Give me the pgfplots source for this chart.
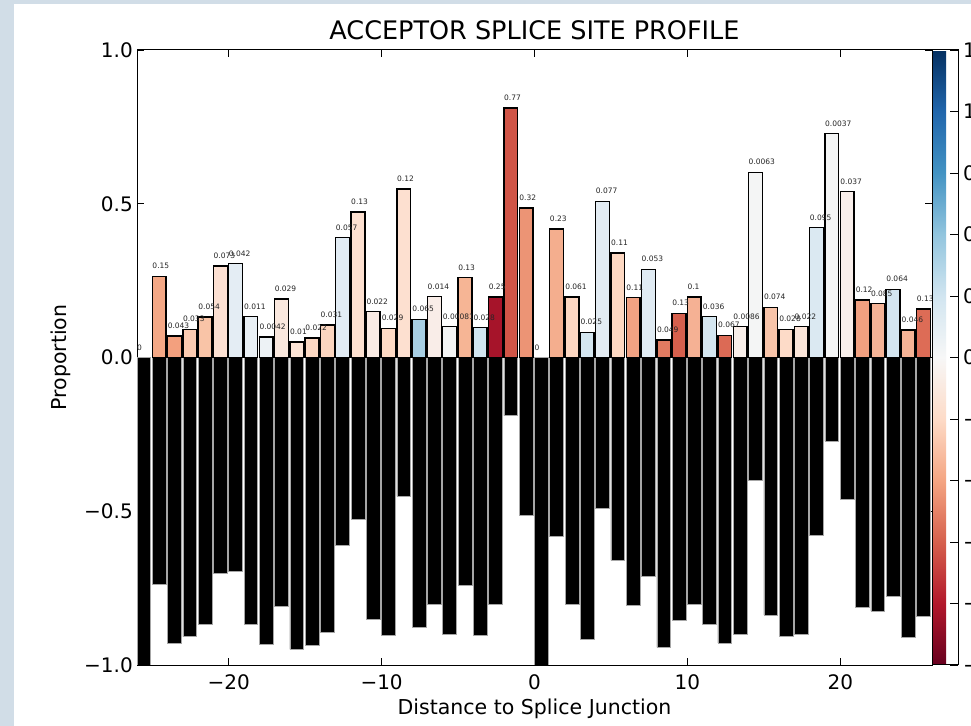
\documentclass[border=0pt]{standalone}
\usepackage{pgfplots}
\pgfplotsset{compat=1.18}
\usepackage{fontspec}
\setmainfont{DejaVu Sans}
\newcommand\fs[1]{\fontsize{#1}{#1}\selectfont}
\definecolor{bgc}{HTML}{D1DDE7}
\definecolor{m25}{HTML}{F4A886}\definecolor{m24}{HTML}{F3A07E}\definecolor{m23}{HTML}{FBCBB1}
\definecolor{m22}{HTML}{F9C4A7}\definecolor{m21}{HTML}{FCE0D2}\definecolor{m20}{HTML}{E4EDF4}
\definecolor{m19}{HTML}{E9F0F5}\definecolor{m18}{HTML}{EDF2F5}\definecolor{m17}{HTML}{FAE8DE}
\definecolor{m16}{HTML}{FCE3D5}\definecolor{m15}{HTML}{FCD8C3}\definecolor{m14}{HTML}{FBD5BF}
\definecolor{m13}{HTML}{E2ECF4}\definecolor{m12}{HTML}{FDE0D0}\definecolor{m11}{HTML}{FAEBE4}
\definecolor{m10}{HTML}{FDD9C4}\definecolor{m9}{HTML}{FDE0D0}\definecolor{m8}{HTML}{A7CEE3}
\definecolor{m7}{HTML}{F9EDE8}\definecolor{m6}{HTML}{F3F4F4}\definecolor{m5}{HTML}{F6B595}
\definecolor{m4}{HTML}{D2E5F0}\definecolor{m3}{HTML}{A6142A}\definecolor{m2}{HTML}{D05547}
\definecolor{m1}{HTML}{EC9475}
\definecolor{p1}{HTML}{F4AE8E}\definecolor{p2}{HTML}{FDD7C2}\definecolor{p3}{HTML}{D4E6F0}
\definecolor{p4}{HTML}{E3ECF3}\definecolor{p5}{HTML}{FDD8C2}\definecolor{p6}{HTML}{F2A283}
\definecolor{p7}{HTML}{E0EBF3}\definecolor{p8}{HTML}{E17B61}\definecolor{p9}{HTML}{D6604D}
\definecolor{p10}{HTML}{F5B194}\definecolor{p11}{HTML}{D4E6F0}\definecolor{p12}{HTML}{DC6A55}
\definecolor{p13}{HTML}{F8EEE9}\definecolor{p14}{HTML}{F4F5F5}\definecolor{p15}{HTML}{F8C4A9}
\definecolor{p16}{HTML}{FDDBC8}\definecolor{p17}{HTML}{FBE5D9}\definecolor{p18}{HTML}{DBE9F2}
\definecolor{p19}{HTML}{F4F5F5}\definecolor{p20}{HTML}{F9EFEB}\definecolor{p21}{HTML}{F1A080}
\definecolor{p22}{HTML}{F5B396}\definecolor{p23}{HTML}{D4E5F0}\definecolor{p24}{HTML}{F6B396}
\definecolor{p25}{HTML}{DD6C56}
\pgfplotsset{
  pb/.style={ybar, bar width=0.9, bar shift=0.45, draw=black, line width=1.4bp},
  nb/.style={ybar, bar width=0.9, bar shift=0.45, fill=black, draw=gray!70, line width=0.6bp},
}
\tikzset{lbl/.style={anchor=base west, inner sep=0pt, yshift=7.4bp, font=\fs{7.5bp}, text=black!85}}
\newcommand\B[3]{\addplot[pb, fill=#3] coordinates {(#1,#2)};}
\newcommand\T[3]{\node[lbl] at (axis cs:#1,#2) {#3};}
\begin{document}
\begin{tikzpicture}
\path[use as bounding box] (0,0) rectangle (971bp,726bp);
\fill[bgc] (0,0) rectangle (971bp,726bp);
\fill[white] (14bp,0) rectangle (971bp,722bp);
\begin{axis}[
  at={(137bp,61bp)}, anchor=south west,
  scale only axis, width=795bp, height=615bp,
  xmin=-26, xmax=26, ymin=-1, ymax=1,
  xtick={-20,-10,0,10,20}, xticklabels={−20,−10,0,10,20},
  ytick={-1,-0.5,0,0.5,1}, yticklabels={−1.0,−0.5,0.0,0.5,1.0},
  tick align=inside, major tick length=7bp,
  tick style={black, line width=0.8bp},
  axis line style={line width=1bp},
  xticklabel style={anchor=base, inner sep=0pt, yshift=-24bp, font=\fs{20bp}},
  yticklabel style={anchor=east, inner sep=0pt, xshift=-4bp, font=\fs{20bp}},
  title={ACCEPTOR SPLICE SITE PROFILE},
  title style={at={(0.5,1)}, anchor=base, inner sep=0pt, yshift=5bp, font=\fs{25.5bp}},
  xlabel={Distance to Splice Junction},
  xlabel style={at={(axis description cs:0.5,0)}, anchor=base, inner sep=0pt, yshift=-49bp, font=\fs{20.5bp}},
  ylabel={Proportion},
  ylabel style={at={(axis description cs:-0.0893,0.5)}, anchor=base, inner sep=0pt, font=\fs{20.5bp}},
  colorbar,
  colormap={RdBu}{rgb255=(103,0,31) rgb255=(178,24,43) rgb255=(214,96,77) rgb255=(244,165,130) rgb255=(253,219,199) rgb255=(247,247,247) rgb255=(209,229,240) rgb255=(146,197,222) rgb255=(67,147,195) rgb255=(33,102,172) rgb255=(5,48,97)},
  point meta min=-1.25, point meta max=1.25,
  colorbar shift/.style={xshift=0pt},
  colorbar style={
    at={(parent axis.north east)}, anchor=north west,
    width=26bp, scale only axis,
    ytick={-1.25,-1,-0.75,-0.5,-0.25,0,0.25,0.5,0.75,1,1.25},
    yticklabels={−1.25,−1.00,−0.75,−0.50,−0.25,0.00,0.25,0.50,0.75,1.00,1.25},
    yticklabel style={anchor=west, inner sep=0pt, xshift=5bp, font=\fs{20bp}},
    ytick pos=right, yticklabel pos=right,
    tick align=inside, major tick length=8bp,
    tick style={black, line width=0.8bp},
    axis line style={line width=1bp},
  },
]
\addplot[nb] table {
x y
-26 -1.000
-25 -0.736
-24 -0.930
-23 -0.908
-22 -0.868
-21 -0.703
-20 -0.694
-19 -0.867
-18 -0.933
-17 -0.810
-16 -0.949
-15 -0.936
-14 -0.894
-13 -0.610
-12 -0.527
-11 -0.851
-10 -0.905
-9 -0.452
-8 -0.876
-7 -0.802
-6 -0.899
-5 -0.740
-4 -0.903
-3 -0.803
-2 -0.189
-1 -0.514
0 -1.000
1 -0.582
2 -0.803
3 -0.918
4 -0.492
5 -0.660
6 -0.805
7 -0.713
8 -0.943
9 -0.856
10 -0.803
11 -0.867
12 -0.928
13 -0.900
14 -0.398
15 -0.837
16 -0.908
17 -0.900
18 -0.577
19 -0.272
20 -0.461
21 -0.813
22 -0.825
23 -0.778
24 -0.910
25 -0.842
};
\B{-25}{0.264}{m25}
\B{-24}{0.070}{m24}
\B{-23}{0.092}{m23}
\B{-22}{0.132}{m22}
\B{-21}{0.297}{m21}
\B{-20}{0.306}{m20}
\B{-19}{0.133}{m19}
\B{-18}{0.067}{m18}
\B{-17}{0.190}{m17}
\B{-16}{0.051}{m16}
\B{-15}{0.064}{m15}
\B{-14}{0.106}{m14}
\B{-13}{0.390}{m13}
\B{-12}{0.473}{m12}
\B{-11}{0.149}{m11}
\B{-10}{0.095}{m10}
\B{-9}{0.548}{m9}
\B{-8}{0.124}{m8}
\B{-7}{0.198}{m7}
\B{-6}{0.101}{m6}
\B{-5}{0.260}{m5}
\B{-4}{0.097}{m4}
\B{-3}{0.197}{m3}
\B{-2}{0.811}{m2}
\B{-1}{0.486}{m1}
\B{1}{0.418}{p1}
\B{2}{0.197}{p2}
\B{3}{0.082}{p3}
\B{4}{0.508}{p4}
\B{5}{0.340}{p5}
\B{6}{0.195}{p6}
\B{7}{0.287}{p7}
\B{8}{0.057}{p8}
\B{9}{0.144}{p9}
\B{10}{0.197}{p10}
\B{11}{0.133}{p11}
\B{12}{0.072}{p12}
\B{13}{0.100}{p13}
\B{14}{0.602}{p14}
\B{15}{0.163}{p15}
\B{16}{0.092}{p16}
\B{17}{0.100}{p17}
\B{18}{0.423}{p18}
\B{19}{0.728}{p19}
\B{20}{0.539}{p20}
\B{21}{0.187}{p21}
\B{22}{0.175}{p22}
\B{23}{0.222}{p23}
\B{24}{0.090}{p24}
\B{25}{0.158}{p25}
\T{-26}{0}{0}
\T{-25}{0.264}{0.15}
\T{-24}{0.070}{0.043}
\T{-23}{0.092}{0.033}
\T{-22}{0.132}{0.054}
\T{-21}{0.297}{0.073}
\T{-20}{0.306}{0.042}
\T{-19}{0.133}{0.011}
\T{-18}{0.067}{0.0042}
\T{-17}{0.190}{0.029}
\T{-16}{0.051}{0.01}
\T{-15}{0.064}{0.022}
\T{-14}{0.106}{0.031}
\T{-13}{0.390}{0.057}
\T{-12}{0.473}{0.13}
\T{-11}{0.149}{0.022}
\T{-10}{0.095}{0.029}
\T{-9}{0.548}{0.12}
\T{-8}{0.124}{0.065}
\T{-7}{0.198}{0.014}
\T{-6}{0.101}{0.00081}
\T{-5}{0.260}{0.13}
\T{-4}{0.097}{0.028}
\T{-3}{0.197}{0.25}
\T{-2}{0.811}{0.77}
\T{-1}{0.486}{0.32}
\T{0}{0}{0}
\T{1}{0.418}{0.23}
\T{2}{0.197}{0.061}
\T{3}{0.082}{0.025}
\T{4}{0.508}{0.077}
\T{5}{0.340}{0.11}
\T{6}{0.195}{0.11}
\T{7}{0.287}{0.053}
\T{8}{0.057}{0.049}
\T{9}{0.144}{0.13}
\T{10}{0.197}{0.1}
\T{11}{0.133}{0.036}
\T{12}{0.072}{0.067}
\T{13}{0.100}{0.0086}
\T{14}{0.602}{0.0063}
\T{15}{0.163}{0.074}
\T{16}{0.092}{0.028}
\T{17}{0.100}{0.022}
\T{18}{0.423}{0.095}
\T{19}{0.728}{0.0037}
\T{20}{0.539}{0.037}
\T{21}{0.187}{0.12}
\T{22}{0.175}{0.085}
\T{23}{0.222}{0.064}
\T{24}{0.090}{0.046}
\T{25}{0.158}{0.13}
\end{axis}
\end{tikzpicture}
\end{document}
